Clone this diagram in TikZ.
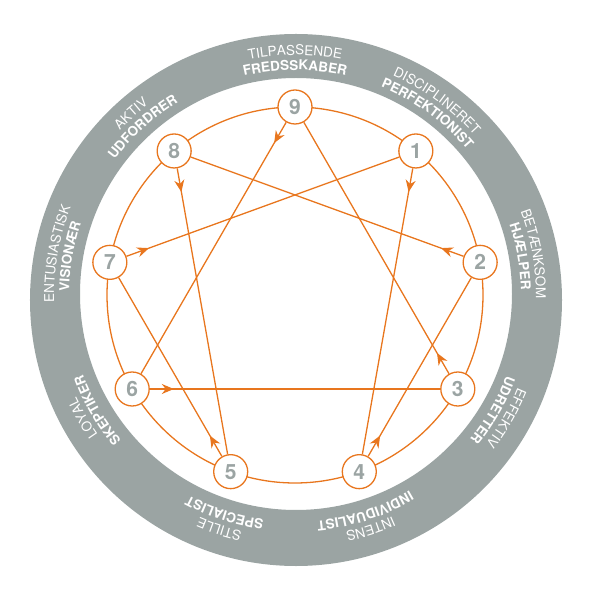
\documentclass[tikz,border=0pt]{standalone}
\usepackage{fontspec}
\setmainfont{TeX Gyre Heros}
\usetikzlibrary{arrows.meta,decorations.text,decorations.markings}
\definecolor{cgray}{HTML}{9BA4A3}
\definecolor{corange}{HTML}{E8761E}
\newcommand\ringreg{\fontsize{13.5}{14}\selectfont\color{white}}
\newcommand\ringbf{\fontsize{13.5}{14}\selectfont\bfseries\color{white}}

\begin{document}
\begin{tikzpicture}[
  x=1pt, y=1pt,
  num/.style={circle, draw=corange, line width=1.3pt, fill=white, minimum size=34pt, inner sep=0pt, text=cgray, font=\fontsize{21}{21}\selectfont\bfseries},
  arr/.style={draw=corange, line width=1.3pt, postaction={decorate, decoration={markings, mark=at position 24pt with {\arrow[corange]{Stealth[length=12pt, width=10pt]}}}}},
  ringout/.style={decorate, decoration={text along path, text align=center, text={|\ringreg|#1}}},
  ringin/.style={decorate, decoration={text along path, text align=center, text={|\ringbf|#1}}}]
  \useasboundingbox (-295,-295) rectangle (296,296);
  % grey ring and the orange circle
  \fill[cgray, even odd rule] (1,-4) circle[radius=266pt] (1,2) circle[radius=216pt];
  \draw[corange, line width=1.3pt] (0,1) circle[radius=188pt];
  % ring texts, outer line thin, inner line bold
  \path[ringout=TILPASSENDE] (140:241) arc[start angle=140, end angle=40, radius=241pt];
  \path[ringin=FREDSSKABER] (140:226) arc[start angle=140, end angle=40, radius=226pt];
  \path[ringout=DISCIPLINERET] (104:241) arc[start angle=104, end angle=4, radius=241pt];
  \path[ringin=PERFEKTIONIST] (104:226) arc[start angle=104, end angle=4, radius=226pt];
  \path[ringout=BETÆNKSOM] (60:241) arc[start angle=60, end angle=-40, radius=241pt];
  \path[ringin=HJÆLPER] (60:226) arc[start angle=60, end angle=-40, radius=226pt];
  \path[ringout=EFFEKTIV] (20:241) arc[start angle=20, end angle=-80, radius=241pt];
  \path[ringin=UDRETTER] (20:226) arc[start angle=20, end angle=-80, radius=226pt];
  \path[ringout=INTENS] (-22:241) arc[start angle=-22, end angle=-122, radius=241pt];
  \path[ringin=INDIVIDUALIST] (-22:226) arc[start angle=-22, end angle=-122, radius=226pt];
  \path[ringout=STILLE] (-58:241) arc[start angle=-58, end angle=-158, radius=241pt];
  \path[ringin=SPECIALIST] (-58:226) arc[start angle=-58, end angle=-158, radius=226pt];
  \path[ringout=LOYAL] (-100:241) arc[start angle=-100, end angle=-200, radius=241pt];
  \path[ringin=SKEPTIKER] (-100:226) arc[start angle=-100, end angle=-200, radius=226pt];
  \path[ringout=ENTUSIASTISK] (220:241) arc[start angle=220, end angle=120, radius=241pt];
  \path[ringin=VISIONÆR] (220:226) arc[start angle=220, end angle=120, radius=226pt];
  \path[ringout=AKTIV] (182:241) arc[start angle=182, end angle=82, radius=241pt];
  \path[ringin=UDFORDRER] (182:226) arc[start angle=182, end angle=82, radius=226pt];
  % the nine points
  \node[num] (p9) at ([yshift=1pt]90:188)   {9};
  \node[num] (p1) at ([yshift=1pt]50:188)   {1};
  \node[num] (p2) at ([yshift=1pt]10:188)   {2};
  \node[num] (p3) at ([yshift=1pt]-30:188)  {3};
  \node[num] (p4) at ([yshift=1pt]-70:188)  {4};
  \node[num] (p5) at ([yshift=1pt]-110:188) {5};
  \node[num] (p6) at ([yshift=1pt]-150:188) {6};
  \node[num] (p7) at ([yshift=1pt]170:188)  {7};
  \node[num] (p8) at ([yshift=1pt]130:188)  {8};
  % hexad and triangle
  \draw[arr] (p1) -- (p4); \draw[arr] (p4) -- (p2); \draw[arr] (p2) -- (p8);
  \draw[arr] (p8) -- (p5); \draw[arr] (p5) -- (p7); \draw[arr] (p7) -- (p1);
  \draw[arr] (p9) -- (p6); \draw[arr] (p6) -- (p3); \draw[arr] (p3) -- (p9);
\end{tikzpicture}
\end{document}
